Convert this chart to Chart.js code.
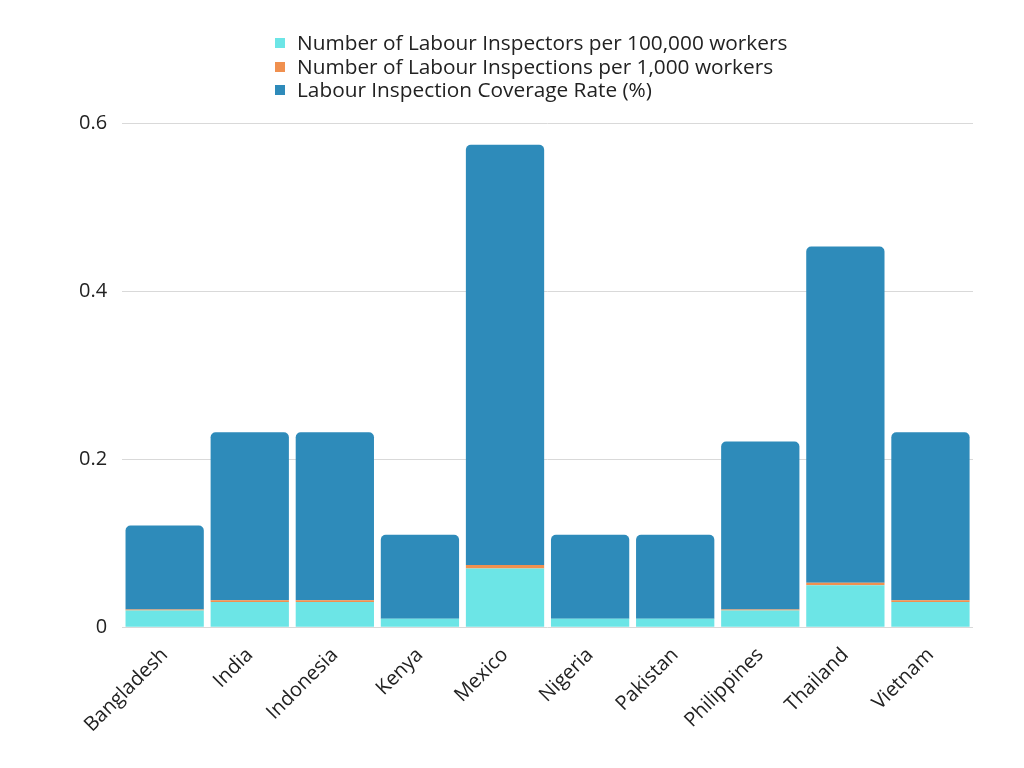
<!DOCTYPE html>
<html>
<head>
<meta charset="utf-8">
<script src="https://cdn.jsdelivr.net/npm/chart.js@4"></script>
<style>
  html, body { margin: 0; padding: 0; background: #fff; }
  #wrap { position: relative; width: 1024px; height: 768px; }
  #legend { position: absolute; left: 275px; top: 31px; font-family: "Open Sans", sans-serif; font-size: 20.8px; color: #222; }
  #legend div { height: 23.5px; line-height: 23.5px; white-space: nowrap; }
  #legend span { display: inline-block; width: 10px; height: 10px; margin-right: 12px; vertical-align: 2px; }
</style>
</head>
<body>
<div id="wrap">
  <canvas id="chart" width="1024" height="768"></canvas>
  <div id="legend"></div>
</div>
<script>
document.addEventListener("DOMContentLoaded", function () {
    // Values
    const countries = ["Bangladesh", "India", "Indonesia", "Kenya", "Mexico", "Nigeria", "Pakistan", "Philippines", "Thailand", "Vietnam"];
    const inspectorsPer100k = [0.02, 0.03, 0.03, 0.01, 0.07, 0.01, 0.01, 0.02, 0.05, 0.03];
    const inspectionsPer1k = [0.001, 0.002, 0.002, 0, 0.004, 0, 0, 0.001, 0.003, 0.002];
    const coverageRate = [0.1, 0.2, 0.2, 0.1, 0.5, 0.1, 0.1, 0.2, 0.4, 0.2];
    const yTicks = [0, 0.2, 0.4, 0.6];

    const seriesNames = [
        "Number of Labour Inspectors per 100,000 workers",
        "Number of Labour Inspections per 1,000 workers",
        "Labour Inspection Coverage Rate (%)"
    ];
    const colors = ["#6ce5e6", "#f0904f", "#2e8bba"];

    const ctx = document.getElementById("chart").getContext("2d");
    new Chart(ctx, {
        type: "bar",
        data: {
            labels: countries,
            datasets: [{
                label: seriesNames[0],
                data: inspectorsPer100k,
                backgroundColor: colors[0]
            }, {
                label: seriesNames[1],
                data: inspectionsPer1k,
                backgroundColor: colors[1]
            }, {
                label: seriesNames[2],
                data: coverageRate,
                backgroundColor: colors[2],
                borderRadius: { topLeft: 5, topRight: 5 },
                borderSkipped: "bottom"
            }]
        },
        options: {
            responsive: false,
            animation: false,
            layout: { padding: { top: 123, right: 51, left: 64, bottom: 23 } },
            plugins: {
                legend: { display: false },
                tooltip: { enabled: false }
            },
            datasets: {
                bar: { categoryPercentage: 1, barPercentage: 0.92 }
            },
            scales: {
                x: {
                    stacked: true,
                    grid: { display: false },
                    border: { display: false },
                    ticks: {
                        minRotation: 45,
                        maxRotation: 45,
                        color: "#222",
                        padding: 8,
                        font: { family: "Open Sans", size: 20 }
                    }
                },
                y: {
                    stacked: true,
                    min: 0,
                    max: 0.6,
                    afterBuildTicks: function (axis) {
                        axis.ticks = yTicks.map(function (v) { return { value: v }; });
                    },
                    grid: { color: "#d9d9d9", lineWidth: 1, drawTicks: false },
                    border: { display: false },
                    ticks: {
                        color: "#222",
                        padding: 15,
                        font: { family: "Open Sans", size: 20 },
                        callback: function (v) { return v === 0 ? "0" : v.toFixed(1); }
                    }
                }
            }
        }
    });

    // Vertical legend like the original
    const legend = document.getElementById("legend");
    seriesNames.forEach(function (name, i) {
        const row = document.createElement("div");
        const box = document.createElement("span");
        box.style.background = colors[i];
        row.appendChild(box);
        row.appendChild(document.createTextNode(name));
        legend.appendChild(row);
    });
});
</script>
</body>
</html>
